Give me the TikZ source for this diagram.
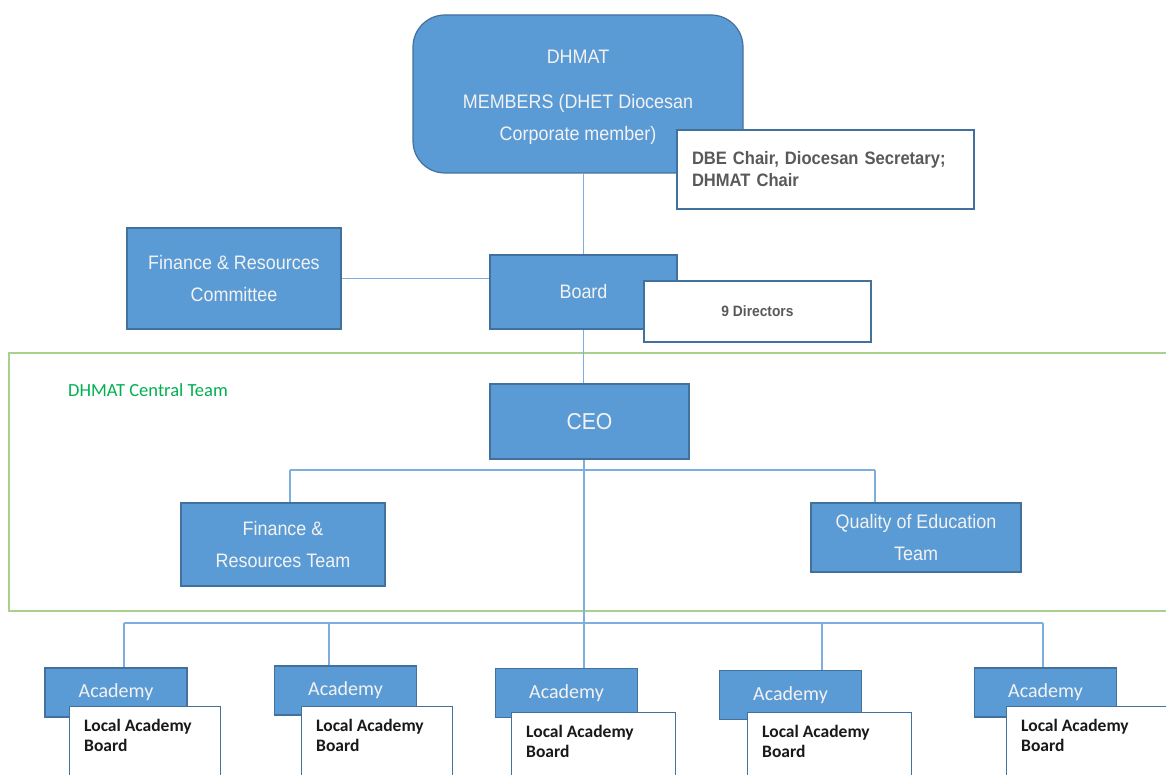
\documentclass[tikz,border=0pt]{standalone}
\usepackage{fontspec}
\setmainfont{Liberation Sans}
\newfontfamily\arialn[FakeStretch=0.92]{Liberation Sans}
\newfontfamily\calibri{Carlito}
\definecolor{boxblue}{HTML}{5B9BD5}
\definecolor{edgeblue}{HTML}{41719C}
\definecolor{lineblue}{HTML}{7EAEDD}
\definecolor{teamgreen}{HTML}{00B050}
\definecolor{framegreen}{HTML}{A9D18E}
\definecolor{notegray}{HTML}{595959}
\begin{document}
\begin{tikzpicture}[x=1pt, y=-1pt,
	bluebox/.style={draw=edgeblue, fill=boxblue, line width=1.2pt, text=white!95!black, align=center, inner sep=0pt, font=\arialn\fontsize{19.5}{32}\selectfont},
	notebox/.style={draw=edgeblue, fill=white, line width=1.2pt, text=notegray, inner sep=0pt, font=\arialn\bfseries\fontsize{18}{22}\selectfont},
	acadbox/.style={bluebox, minimum width=142pt, minimum height=49pt, font=\calibri\fontsize{20}{24}\selectfont},
	labbox/.style={draw=edgeblue, fill=white, line width=1.2pt, minimum height=90pt, inner sep=0pt},
	labtext/.style={align=left, inner sep=0pt, text=black!90, font=\calibri\bfseries\fontsize{17.5}{20}\selectfont},
	conn/.style={lineblue, line width=1.3pt}]
	\clip (0,0) rectangle (1166,775);
	% Central team frame
	\draw[framegreen, line width=1.3pt] (9,353) rectangle (1185,611);
	\node[anchor=west, text=teamgreen, inner sep=0pt, font=\calibri\fontsize{18.5}{22}\selectfont] (ctitle) at (68,390) {DHMAT Central Team};
	% Members and board
	\node[bluebox, rounded corners=32pt, minimum width=330pt, minimum height=158pt] (members) at (578,94) {\rule{0pt}{21pt}DHMAT\\[13pt] MEMBERS (DHET Diocesan\\Corporate member)};
	\node[notebox, align=left, inner xsep=15pt, text width=267pt, minimum height=79pt] (dbe) at (825.5,169.5) {DBE Chair, Diocesan Secretary;\\DHMAT Chair};
	\node[bluebox, minimum width=214pt, minimum height=101pt] (frc) at (234,278.5) {Finance \& Resources\\Committee};
	\node[bluebox, minimum width=187pt, minimum height=74pt] (board) at (583.5,292) {Board};
	\node[notebox, minimum width=227pt, minimum height=61pt, font=\arialn\bfseries\fontsize{15}{18}\selectfont] (dirs) at (757.5,311.5) {9 Directors};
	\draw[conn] (board.north) -- (board.north |- members.south);
	\draw[conn] (frc.east) -- (frc.east -| board.west);
	% Central team
	\node[bluebox, minimum width=199pt, minimum height=75pt, font=\arialn\fontsize{23}{26}\selectfont] (ceo) at (589.5,421.5) {CEO};
	\node[bluebox, minimum width=204pt, minimum height=83pt] (frt) at (283,544.5) {Finance \&\\Resources Team};
	\node[bluebox, minimum width=210pt, minimum height=69pt] (qoe) at (916,537.5) {Quality of Education\\Team};
	\draw[conn] (board.south) -- (board.south |- ceo.north);
	\coordinate (t1) at (290,470);
	\coordinate (t2) at (875,470);
	\draw[conn] (t1) -- (t2);
	\draw[conn] (t1) -- (t1 |- frt.north);
	\draw[conn] (t2) -- (t2 |- qoe.north);
	% Academies
	\coordinate (b1) at (124,623);
	\coordinate (b5) at (1043,623);
	\draw[conn] (b1) -- (b5);
	\foreach \i/\ax/\ay/\lx/\ly/\lw/\bx in {1/116/692.5/69/706/151/124, 2/345.5/690.5/301/706/151/329, 3/566.5/693/511/712/164/584, 4/790.5/695/747/712/164/822, 5/1045.5/692.5/1006/706/180/1043}{
		\node[acadbox] (a\i) at (\ax,\ay) {Academy};
		\node[labbox, anchor=north west, minimum width=\lw pt] (lab\i) at (\lx,\ly) {};
		\node[labtext, anchor=north west] (lt\i) at ([shift={(15,13)}]lab\i.north west) {Local Academy\\Board};
		\coordinate (bus\i) at (\bx,623);
		\draw[conn] (bus\i) -- (bus\i |- a\i.north);
	}
	\draw[conn] (ceo.south -| bus3) -- (bus3);
\end{tikzpicture}
\end{document}
